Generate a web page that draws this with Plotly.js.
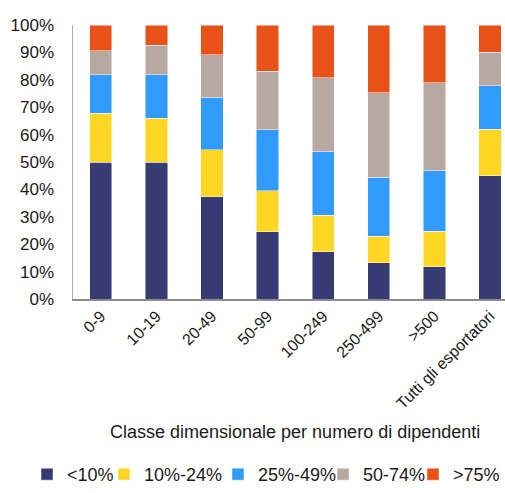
<!DOCTYPE html>
<html>
<head>
<meta charset="utf-8">
<script src="https://cdn.plot.ly/plotly-3.0.1.min.js"></script>
<style>html,body{margin:0;padding:0;background:#fff;}#chart{width:505px;height:493px;}</style>
</head>
<body>
<div id="chart"></div>
<script>
const categories = ["0-9", "10-19", "20-49", "50-99", "100-249", "250-499", ">500", "Tutti gli esportatori"];
const seriesNames = ["<10%", "10%-24%", "25%-49%", "50-74%", ">75%"];
const lt10 = [50.0, 50.0, 37.3, 24.6, 17.3, 13.2, 11.8, 45.0];
const s10_24 = [17.8, 15.9, 17.1, 14.9, 13.2, 9.7, 12.9, 16.9];
const s25_49 = [14.0, 16.0, 19.1, 22.3, 23.3, 21.5, 22.1, 15.9];
const s50_74 = [8.8, 10.8, 15.6, 21.4, 26.9, 30.9, 32.1, 12.2];
const gt75 = [9.4, 7.3, 10.9, 16.8, 19.3, 24.7, 21.1, 10.0];
const yTickVals = [0, 10, 20, 30, 40, 50, 60, 70, 80, 90, 100];
const yTickText = ["0%", "10%", "20%", "30%", "40%", "50%", "60%", "70%", "80%", "90%", "100%"];
const xTitle = "Classe dimensionale per numero di dipendenti";

const colors = ["#363C73", "#FFD624", "#319BFF", "#B7A9A2", "#E85117"];
const allSeries = [lt10, s10_24, s25_49, s50_74, gt75];
const legendIds = ["legend", "legend2", "legend3", "legend4", "legend5"];
const legendLeftPx = [27, 104, 218, 323, 413];

const traces = allSeries.map((vals, i) => ({
  type: "bar",
  name: seriesNames[i],
  x: categories,
  y: vals,
  legend: legendIds[i],
  marker: {color: colors[i], line: {color: "rgba(255,255,255,0.6)", width: 0.8}},
  width: 0.4,
  hoverinfo: "none"
}));

const layout = {
  width: 505,
  height: 493,
  margin: {l: 73, r: 0, t: 25, b: 194},
  barmode: "stack",
  paper_bgcolor: "#fff",
  plot_bgcolor: "#fff",
  font: {family: "Liberation Sans, Arial, sans-serif", color: "#1a1a1a"},
  showlegend: true,
  xaxis: {
    type: "category",
    range: [-0.5, 7.27],
    tickangle: -45,
    tickfont: {size: 16},
    ticks: "",
    showline: true,
    linecolor: "#8c8c8c",
    linewidth: 1.5,
    showgrid: false,
    zeroline: false,
    fixedrange: true
  },
  yaxis: {
    range: [0, 100],
    tickvals: yTickVals,
    ticktext: yTickText,
    tickfont: {size: 17},
    ticks: "",
    ticklabelstandoff: 14,
    showline: true,
    linecolor: "#b0b0b0",
    linewidth: 1.5,
    showgrid: false,
    zeroline: false,
    fixedrange: true
  },
  annotations: [{
    text: xTitle,
    xref: "paper", yref: "paper",
    x: (295 - 73) / 432, xanchor: "center",
    y: (299 - 432) / 274, yanchor: "middle",
    showarrow: false,
    font: {size: 18, color: "#1a1a1a"}
  }]
};

legendIds.forEach((id, i) => {
  layout[id] = {
    orientation: "h",
    xref: "container", yref: "container",
    x: legendLeftPx[i] / 505, xanchor: "left",
    y: 0, yanchor: "bottom",
    font: {size: 18, color: "#1a1a1a"},
    bgcolor: "rgba(0,0,0,0)",
    borderwidth: 0,
    itemwidth: 30
  };
});

Plotly.newPlot("chart", traces, layout, {displayModeBar: false, staticPlot: true});
</script>
</body>
</html>
